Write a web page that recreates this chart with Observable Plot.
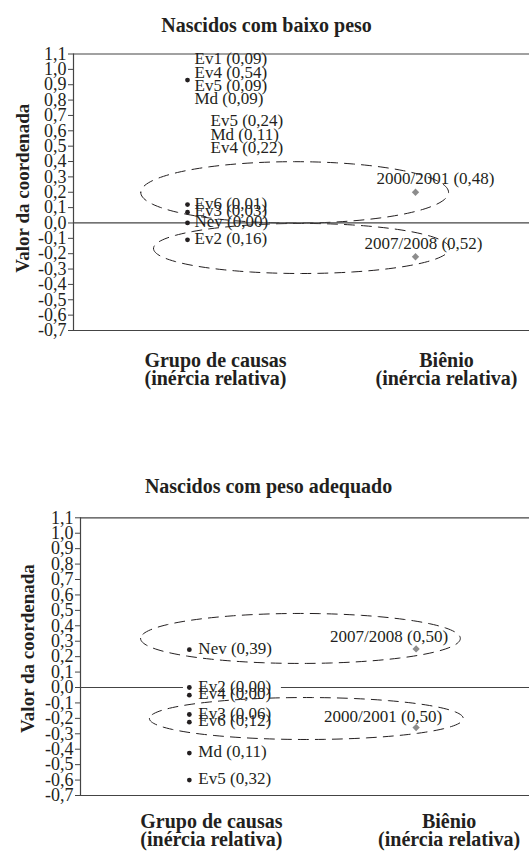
<!DOCTYPE html>
<html><head><meta charset="utf-8">
<script src="https://cdn.jsdelivr.net/npm/d3@7"></script>
<script src="https://cdn.jsdelivr.net/npm/@observablehq/plot@0.6"></script>
<style>
body{margin:0;background:#fff;}
#page{position:relative;width:529px;height:852px;overflow:hidden;background:#fff;}
#rule{position:absolute;left:18px;top:0;width:511px;height:1px;background:#8a8a8a;}
#c1{position:absolute;left:0;top:0;}
#c2{position:absolute;left:0;top:430px;}
svg{display:block;}
</style></head><body>
<div id="page"><div id="rule"></div><div id="c1"></div><div id="c2"></div></div>
<script>
const INK = "#231f20";

// shared axis
const yTickValues = [1.1, 1.0, 0.9, 0.8, 0.7, 0.6, 0.5, 0.4, 0.3, 0.2, 0.1, 0.0, -0.1, -0.2, -0.3, -0.4, -0.5, -0.6, -0.7];
const yTickLabels = ["1,1", "1,0", "0,9", "0,8", "0,7", "0,6", "0,5", "0,4", "0,3", "0,2", "0,1", "0,0", "-0,1", "-0,2", "-0,3", "-0,4", "-0,5", "-0,6", "-0,7"];
const yAxisTitle = "Valor da coordenada";
const columnNames = ["Grupo de causas\n(inércia relativa)", "Biênio\n(inércia relativa)"];

// chart 1: Nascidos com baixo peso
const lowTitle = "Nascidos com baixo peso";
const lowGroupLabels = ["Ev1 (0,09)\nEv4 (0,54)\nEv5 (0,09)\nMd (0,09)", "Ev6 (0,01)", "Ev3 (0,03)", "Nev (0,00)", "Ev2 (0,16)"];
const lowGroupValues = [0.93, 0.12, 0.07, 0.00, -0.11];
const lowFloatLabels = ["Ev5 (0,24)\nMd (0,11)\nEv4 (0,22)"];
const lowFloatValues = [0.57];
const lowPeriodLabels = ["2000/2001 (0,48)", "2007/2008 (0,52)"];
const lowPeriodValues = [0.20, -0.22];
const lowEllipseCx = [1.47, 1.50];
const lowEllipseCy = [0.199, -0.166];
const lowEllipseRx = [0.675, 0.649];
const lowEllipseRy = [0.200, 0.163];

// chart 2: Nascidos com peso adequado
const okTitle = "Nascidos com peso adequado";
const okGroupLabels = ["Nev (0,39)", "Ev2 (0,00)", "Ev4 (0,00)", "Ev3 (0,06)", "Ev6 (0,12)", "Md (0,11)", "Ev5 (0,32)"];
const okGroupValues = [0.245, 0.00, -0.05, -0.175, -0.225, -0.425, -0.60];
const okPeriodLabels = ["2007/2008 (0,50)", "2000/2001 (0,50)"];
const okPeriodValues = [0.25, -0.26];
const okEllipseCx = [1.49, 1.516];
const okEllipseCy = [0.318, -0.201];
const okEllipseRx = [0.705, 0.692];
const okEllipseRy = [0.162, 0.136];
const okZeroStart = [0.52, 1.406];
const okZeroEnd = [0.974, 2.5];

function ellipsePoints(cx, cy, rx, ry) {
  const pts = [];
  cx.forEach((c, k) => {
    for (let i = 0; i <= 160; i++) {
      const t = Math.PI + (i / 160) * 2 * Math.PI;
      pts.push({id: k, x: c + rx[k] * Math.cos(t), y: cy[k] + ry[k] * Math.sin(t)});
    }
  });
  return pts;
}

const tickFmt = d => yTickLabels[yTickValues.findIndex(v => Math.abs(v - d) < 1e-9)];

function chart(cfg) {
  const groups = cfg.groupLabels.map((label, i) => ({label, v: cfg.groupValues[i]}));
  const periods = cfg.periodLabels.map((label, i) => ({label, v: cfg.periodValues[i]}));
  const floats = (cfg.floatLabels || []).map((label, i) => ({label, v: cfg.floatValues[i]}));
  const zeroSegs = cfg.zeroStart ? cfg.zeroStart.map((s, i) => ({x1: s, x2: cfg.zeroEnd[i]})) : [{x1: cfg.x0, x2: 2.5}];
  const marks = [
    Plot.line(ellipsePoints(cfg.ex, cfg.ey, cfg.erx, cfg.ery), {x: "x", y: "y", z: "id", stroke: INK, strokeWidth: 1, strokeDasharray: "10,7"}),
    Plot.ruleY([1.1, -0.7], {stroke: "#444", strokeWidth: 1.2}),
    Plot.ruleX([cfg.x0], {stroke: "#444", strokeWidth: 1.2}),
    Plot.ruleY(zeroSegs, {y: () => 0, x1: "x1", x2: "x2", stroke: "#444", strokeWidth: 1.2}),
    Plot.axisY(yTickValues, {tickFormat: tickFmt, tickSize: 5, tickPadding: 2, fontSize: 18, label: null, stroke: "#444", fill: INK}),
    Plot.text([yAxisTitle], {text: d => d, frameAnchor: "left", textAnchor: "middle", rotate: -90, dx: cfg.ylabelDx, dy: cfg.ylabelDy, fontSize: 19, fontWeight: "bold", fill: INK}),
    Plot.text([cfg.title], {text: d => d, frameAnchor: "top", dx: cfg.titleDx, dy: cfg.titleDy, fontSize: 20, fontWeight: "bold", fill: INK, lineAnchor: "middle"}),
    Plot.text([columnNames[0]], {text: d => d, x: () => 1, frameAnchor: "bottom", dx: cfg.col1Dx, dy: cfg.colDy, fontSize: 20, fontWeight: "bold", fill: INK, lineAnchor: "middle", lineHeight: 0.9}),
    Plot.text([columnNames[1]], {text: d => d, x: () => 2, frameAnchor: "bottom", dx: cfg.col2Dx, dy: cfg.colDy, fontSize: 20, fontWeight: "bold", fill: INK, lineAnchor: "middle", lineHeight: 0.9}),
    Plot.dot(groups, {x: () => 1, y: "v", r: 2.4, fill: INK, stroke: "none"}),
    Plot.text(groups, {x: () => 1, y: "v", text: "label", textAnchor: "start", dx: cfg.labelDx, lineAnchor: "middle", fontSize: 17, lineHeight: 0.78, fill: INK}),
    Plot.text(floats, {x: () => 1, y: "v", text: "label", textAnchor: "start", dx: 23, lineAnchor: "middle", fontSize: 17, lineHeight: 0.8, fill: INK}),
    Plot.dot(periods, {x: () => 2, y: "v", symbol: "diamond2", r: 3.3, fill: "#8c8c8c", stroke: "none"})
  ];
  periods.forEach((p, i) => {
    marks.push(Plot.text([p], {x: () => 2, y: "v", text: "label", textAnchor: "middle", dx: cfg.periodDx[i], dy: cfg.periodDy[i], fontSize: 17, fill: INK, lineAnchor: "middle"}));
  });
  return Plot.plot({
    width: 529,
    height: cfg.height,
    marginLeft: cfg.marginLeft,
    marginRight: 0,
    marginTop: cfg.marginTop,
    marginBottom: cfg.marginBottom,
    x: {domain: [cfg.x0, 2.5], axis: null},
    y: {domain: [-0.7, 1.1], axis: null},
    style: "font-family: 'Liberation Serif', 'DejaVu Serif', serif; background: white; color: #231f20; overflow: visible;",
    marks
  });
}

document.getElementById("c1").appendChild(chart({
  title: lowTitle, height: 430, marginLeft: 73, marginTop: 53.5, marginBottom: 100, x0: 0.5,
  groupLabels: lowGroupLabels, groupValues: lowGroupValues,
  floatLabels: lowFloatLabels, floatValues: lowFloatValues,
  periodLabels: lowPeriodLabels, periodValues: lowPeriodValues,
  periodDx: [20, 8], periodDy: [-14, -13],
  ex: lowEllipseCx, ey: lowEllipseCy, erx: lowEllipseRx, ery: lowEllipseRy,
  ylabelDx: -51, ylabelDy: -4, titleDx: -35, titleDy: -28.5,
  col1Dx: 28, col2Dx: 31, colDy: 40, labelDx: 7
}));

document.getElementById("c2").appendChild(chart({
  title: okTitle, height: 422, marginLeft: 80, marginTop: 87.3, marginBottom: 57, x0: 0.52,
  groupLabels: okGroupLabels, groupValues: okGroupValues,
  periodLabels: okPeriodLabels, periodValues: okPeriodValues,
  periodDx: [-27, -33], periodDy: [-12, -11],
  ex: okEllipseCx, ey: okEllipseCy, erx: okEllipseRx, ery: okEllipseRy,
  zeroStart: okZeroStart, zeroEnd: okZeroEnd,
  ylabelDx: -53, ylabelDy: -8, titleDx: -36.5, titleDy: -31.3,
  col1Dx: 22, col2Dx: 33, colDy: 36, labelDx: 9
}));
</script>
</body></html>
